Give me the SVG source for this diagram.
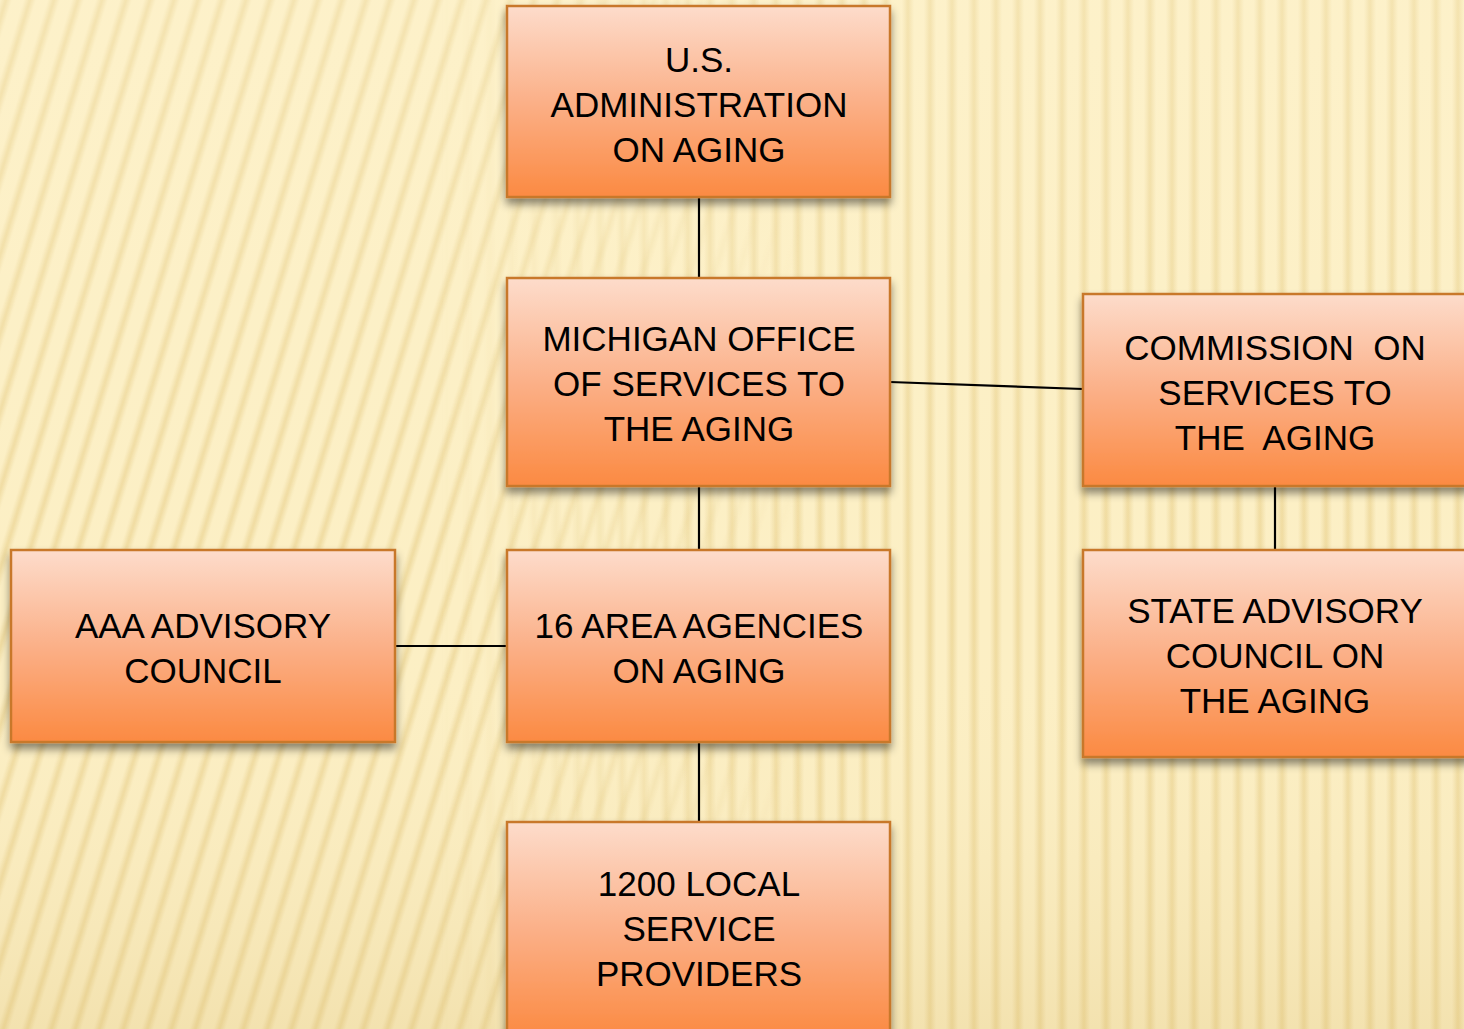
<svg xmlns="http://www.w3.org/2000/svg" width="1464" height="1029" viewBox="0 0 1464 1029">
<style>
.box{fill:url(#boxGrad);stroke:#c8782c;stroke-width:2.5;filter:url(#shadow)}
.lbl{font-family:"Liberation Sans",Arial,sans-serif;font-size:35px;fill:#000;text-anchor:middle;white-space:pre}
.conn{stroke:#000;stroke-width:2.2;fill:none}
</style>
<defs>
<linearGradient id="boxGrad" x1="0" y1="0" x2="0" y2="1">
<stop offset="0" stop-color="#fddccb"/>
<stop offset="0.5" stop-color="#fbb088"/>
<stop offset="1" stop-color="#fb8a42"/>
</linearGradient>
<linearGradient id="stripeGrad" x1="0" y1="0" x2="1" y2="0">
<stop offset="0" stop-color="#e6cc86" stop-opacity="0"/>
<stop offset="0.5" stop-color="#e6cc86" stop-opacity="0.6"/>
<stop offset="1" stop-color="#e6cc86" stop-opacity="0"/>
</linearGradient>
<pattern id="stripesTilt" width="24" height="40" patternUnits="userSpaceOnUse" patternTransform="skewX(-17)">
<rect x="0" y="0" width="12" height="40" fill="url(#stripeGrad)"/>
</pattern>
<pattern id="stripesVert" width="22" height="40" patternUnits="userSpaceOnUse">
<rect x="0" y="0" width="12" height="40" fill="url(#stripeGrad)"/>
</pattern>
<linearGradient id="maskGradL" x1="0" y1="0" x2="1" y2="0">
<stop offset="0" stop-color="#fff"/>
<stop offset="0.3" stop-color="#fff"/>
<stop offset="0.55" stop-color="#000"/>
<stop offset="1" stop-color="#000"/>
</linearGradient>
<linearGradient id="maskGradR" x1="0" y1="0" x2="1" y2="0">
<stop offset="0" stop-color="#000"/>
<stop offset="0.3" stop-color="#000"/>
<stop offset="0.55" stop-color="#fff"/>
<stop offset="1" stop-color="#fff"/>
</linearGradient>
<mask id="maskL"><rect width="1464" height="1029" fill="url(#maskGradL)"/></mask>
<mask id="maskR"><rect width="1464" height="1029" fill="url(#maskGradR)"/></mask>
<linearGradient id="bgShade" x1="0" y1="0" x2="0" y2="1">
<stop offset="0" stop-color="#fff6d6" stop-opacity="0.3"/>
<stop offset="0.6" stop-color="#fff6d6" stop-opacity="0"/>
<stop offset="1" stop-color="#d8bb70" stop-opacity="0.25"/>
</linearGradient>
<filter id="shadow" x="-10%" y="-10%" width="120%" height="130%">
<feDropShadow dx="0" dy="6" stdDeviation="4" flood-color="#000" flood-opacity="0.45"/>
</filter>
</defs>

<g id="background">
<rect width="1464" height="1029" fill="#fcefc4"/>
<rect width="1464" height="1029" fill="url(#stripesTilt)" mask="url(#maskL)"/>
<rect width="1464" height="1029" fill="url(#stripesVert)" mask="url(#maskR)"/>
<rect width="1464" height="1029" fill="url(#bgShade)"/>
</g>

<g id="connectors">
<line class="conn" x1="699" y1="197" x2="699" y2="278"/>
<line class="conn" x1="699" y1="486" x2="699" y2="550"/>
<line class="conn" x1="699" y1="742" x2="699" y2="822"/>
<line class="conn" x1="395" y1="646" x2="507" y2="646"/>
<line class="conn" x1="890" y1="382" x2="1083" y2="389"/>
<line class="conn" x1="1275" y1="486" x2="1275" y2="550"/>
</g>

<g id="node-us-aoa">
<rect class="box" x="507" y="6" width="383" height="191"/>
<text class="lbl" x="699" y="72">U.S.</text>
<text class="lbl" x="699" y="117">ADMINISTRATION</text>
<text class="lbl" x="699" y="162">ON AGING</text>
</g>

<g id="node-michigan-office">
<rect class="box" x="507" y="278" width="383" height="208"/>
<text class="lbl" x="699" y="351">MICHIGAN OFFICE</text>
<text class="lbl" x="699" y="396">OF SERVICES TO</text>
<text class="lbl" x="699" y="441">THE AGING</text>
</g>

<g id="node-commission">
<rect class="box" x="1083" y="294" width="400" height="192"/>
<text class="lbl" x="1275" y="360">COMMISSION  ON</text>
<text class="lbl" x="1275" y="405">SERVICES TO</text>
<text class="lbl" x="1275" y="450">THE  AGING</text>
</g>

<g id="node-state-advisory">
<rect class="box" x="1083" y="550" width="400" height="207"/>
<text class="lbl" x="1275" y="623">STATE ADVISORY</text>
<text class="lbl" x="1275" y="668">COUNCIL ON</text>
<text class="lbl" x="1275" y="713">THE AGING</text>
</g>

<g id="node-aaa-advisory">
<rect class="box" x="11" y="550" width="384" height="192"/>
<text class="lbl" x="203" y="638">AAA ADVISORY</text>
<text class="lbl" x="203" y="683">COUNCIL</text>
</g>

<g id="node-area-agencies">
<rect class="box" x="507" y="550" width="383" height="192"/>
<text class="lbl" x="699" y="638">16 AREA AGENCIES</text>
<text class="lbl" x="699" y="683">ON AGING</text>
</g>

<g id="node-local-providers">
<rect class="box" x="507" y="822" width="383" height="215"/>
<text class="lbl" x="699" y="896">1200 LOCAL</text>
<text class="lbl" x="699" y="941">SERVICE</text>
<text class="lbl" x="699" y="986">PROVIDERS</text>
</g>
</svg>
